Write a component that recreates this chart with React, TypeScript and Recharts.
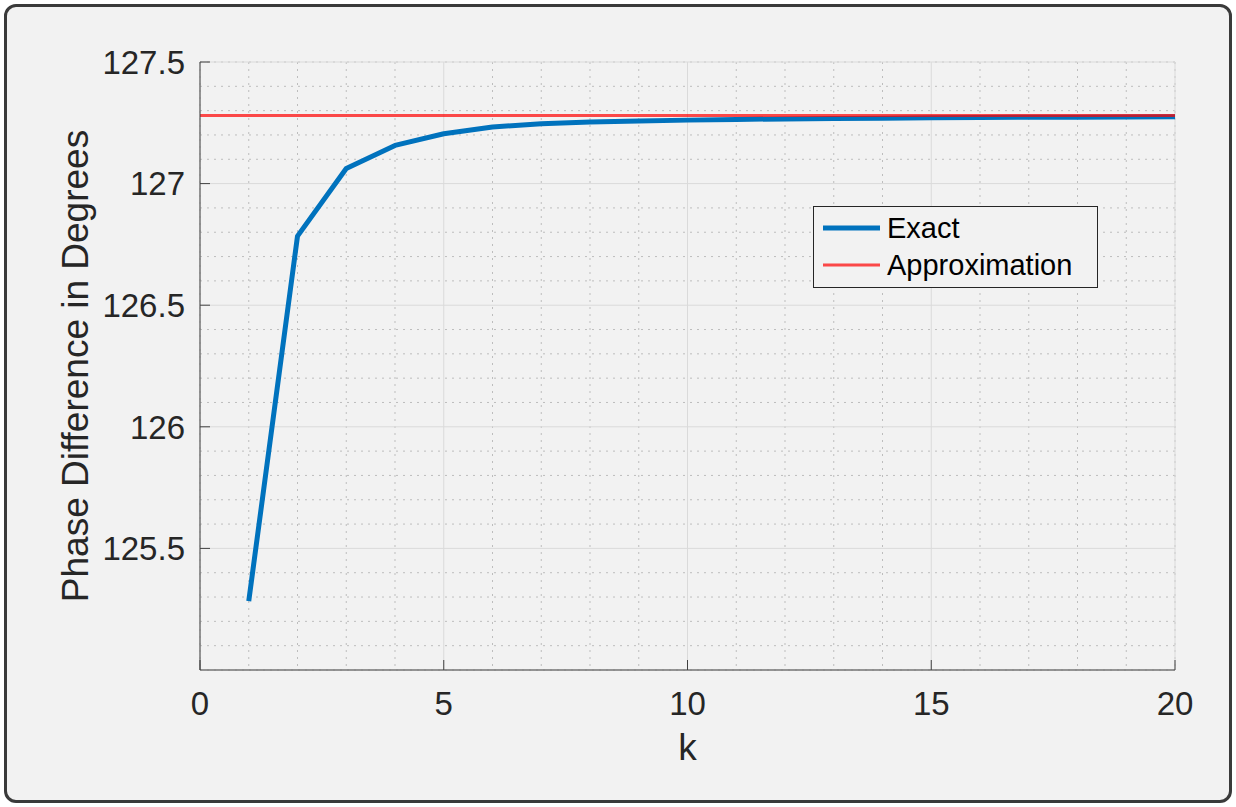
import React from 'react';
import {
  LineChart,
  Line,
  XAxis,
  YAxis,
  CartesianGrid,
  Legend,
} from 'recharts';

// ---- data ----
const kValues = [0, 1, 2, 3, 4, 5, 6, 7, 8, 9, 10, 11, 12, 13, 14, 15, 16, 17, 18, 19, 20];
const exactValues: (number | null)[] = [
  null, 125.283, 126.784, 127.062, 127.157, 127.205, 127.233, 127.246, 127.253, 127.257,
  127.261, 127.264, 127.266, 127.268, 127.269, 127.271, 127.272, 127.273, 127.273, 127.274, 127.275,
];
const approxValues = [
  127.28, 127.28, 127.28, 127.28, 127.28, 127.28, 127.28, 127.28, 127.28, 127.28, 127.28,
  127.28, 127.28, 127.28, 127.28, 127.28, 127.28, 127.28, 127.28, 127.28, 127.28,
];
const xTicks = [0, 5, 10, 15, 20];
const yTicks = [125.5, 126, 126.5, 127, 127.5];
const xMinorTicks = [1, 2, 3, 4, 6, 7, 8, 9, 11, 12, 13, 14, 16, 17, 18, 19];
const yMinorTicks = [
  125.1, 125.2, 125.3, 125.4, 125.6, 125.7, 125.8, 125.9, 126.1, 126.2, 126.3, 126.4,
  126.6, 126.7, 126.8, 126.9, 127.1, 127.2, 127.3, 127.4,
];
const xDomain = [0, 20];
const yDomain = [125, 127.5];
const xLabel = 'k';
const yLabel = 'Phase Difference in Degrees';
const exactName = 'Exact';
const approxName = 'Approximation';
const seriesOrder = [exactName, approxName];

const data = kValues.map((k, i) => ({ k, exact: exactValues[i], approx: approxValues[i] }));

const FONT = '"Liberation Sans", Arial, Helvetica, sans-serif';
const AXIS_COLOR = '#404040';
const TEXT_COLOR = '#262626';

const seriesStyle: Record<string, { color: string; width: number; opacity: number }> = {
  [exactName]: { color: '#0072BD', width: 5, opacity: 1 },
  [approxName]: { color: '#ff0000', width: 3, opacity: 0.7 },
};

const renderLegend = (props: any) => {
  const payload = [...(props.payload || [])].sort(
    (a: any, b: any) => seriesOrder.indexOf(a.value) - seriesOrder.indexOf(b.value)
  );
  return (
    <div
      style={{
        position: 'relative',
        width: 285,
        height: 82,
        boxSizing: 'border-box',
        border: '1px solid #262626',
        background: '#f2f2f2',
        fontFamily: FONT,
      }}
    >
      {payload.map((entry: any, i: number) => {
        const st = seriesStyle[entry.value] || { color: entry.color, width: 3, opacity: 1 };
        const cy = 21 + i * 37;
        return (
          <div key={entry.value} style={{ position: 'absolute', left: 0, top: cy - 20, height: 40, width: '100%' }}>
            <svg width={70} height={40} style={{ position: 'absolute', left: 0, top: 0 }}>
              <line x1={9} x2={66} y1={20} y2={20} stroke={st.color} strokeOpacity={st.opacity} strokeWidth={st.width} />
            </svg>
            <span
              style={{
                position: 'absolute',
                left: 73,
                top: 0,
                lineHeight: '40px',
                fontSize: 29,
                color: '#000',
                whiteSpace: 'nowrap',
              }}
            >
              {entry.value}
            </span>
          </div>
        );
      })}
    </div>
  );
};

export default function App() {
  return (
    <div style={{ position: 'absolute', left: 0, top: 0, width: 1236, height: 807, background: '#ffffff' }}>
      <div
        style={{
          position: 'absolute',
          left: 4,
          top: 4,
          width: 1228,
          height: 799,
          boxSizing: 'border-box',
          border: '3px solid #3a3a3a',
          borderRadius: 12,
          background: '#f2f2f2',
        }}
      />
      <div style={{ position: 'absolute', left: 0, top: 0 }}>
        <LineChart
          width={1236}
          height={807}
          data={data}
          margin={{ top: 62, right: 61, bottom: 77, left: 100 }}
        >
          <XAxis xAxisId="minor" dataKey="k" type="number" domain={xDomain} ticks={xMinorTicks} interval={0} hide />
          <YAxis yAxisId="minor" type="number" domain={yDomain} ticks={yMinorTicks} interval={0} hide allowDataOverflow />
          <CartesianGrid
            xAxisId="minor"
            yAxisId="minor"
            stroke="#bdbdbd"
            strokeWidth={1}
            strokeDasharray="2 5"
          />
          <CartesianGrid stroke="#dadada" strokeWidth={1} />
          <XAxis
            dataKey="k"
            type="number"
            domain={xDomain}
            ticks={xTicks}
            interval={0}
            height={60}
            stroke={AXIS_COLOR}
            tickSize={-10}
            tickMargin={32}
            tick={{ fill: TEXT_COLOR, fontSize: 33, fontFamily: FONT }}
            label={{
              value: xLabel,
              position: 'bottom',
              offset: 4,
              fill: TEXT_COLOR,
              fontSize: 37,
              fontFamily: FONT,
            }}
          />
          <YAxis
            type="number"
            domain={yDomain}
            ticks={yTicks}
            interval={0}
            width={100}
            allowDataOverflow
            stroke={AXIS_COLOR}
            tickSize={-10}
            tickMargin={25}
            tick={{ fill: TEXT_COLOR, fontSize: 33, fontFamily: FONT }}
            label={{
              value: yLabel,
              angle: -90,
              position: 'left',
              offset: 25,
              fill: TEXT_COLOR,
              fontSize: 37,
              fontFamily: FONT,
              style: { textAnchor: 'middle' },
            }}
          />
          <XAxis
            xAxisId="top"
            orientation="top"
            type="number"
            domain={xDomain}
            ticks={xTicks}
            interval={0}
            height={0}
            stroke={AXIS_COLOR}
            tickSize={-10}
            tick={false}
          />
          <YAxis
            yAxisId="right"
            orientation="right"
            type="number"
            domain={yDomain}
            ticks={yTicks}
            interval={0}
            width={0}
            stroke={AXIS_COLOR}
            tickSize={-10}
            tick={false}
          />
          <Line
            name={exactName}
            dataKey="exact"
            stroke={seriesStyle[exactName].color}
            strokeWidth={seriesStyle[exactName].width}
            dot={false}
            activeDot={false}
            isAnimationActive={false}
            strokeLinejoin="round"
          />
          <Line
            name={approxName}
            dataKey="approx"
            stroke={seriesStyle[approxName].color}
            strokeOpacity={seriesStyle[approxName].opacity}
            strokeWidth={seriesStyle[approxName].width}
            dot={false}
            activeDot={false}
            isAnimationActive={false}
          />
          <Legend
            layout="vertical"
            align="center"
            verticalAlign="middle"
            content={renderLegend}
            wrapperStyle={{ left: 813, top: 206, width: 285, height: 82 }}
          />
        </LineChart>
      </div>
    </div>
  );
}
